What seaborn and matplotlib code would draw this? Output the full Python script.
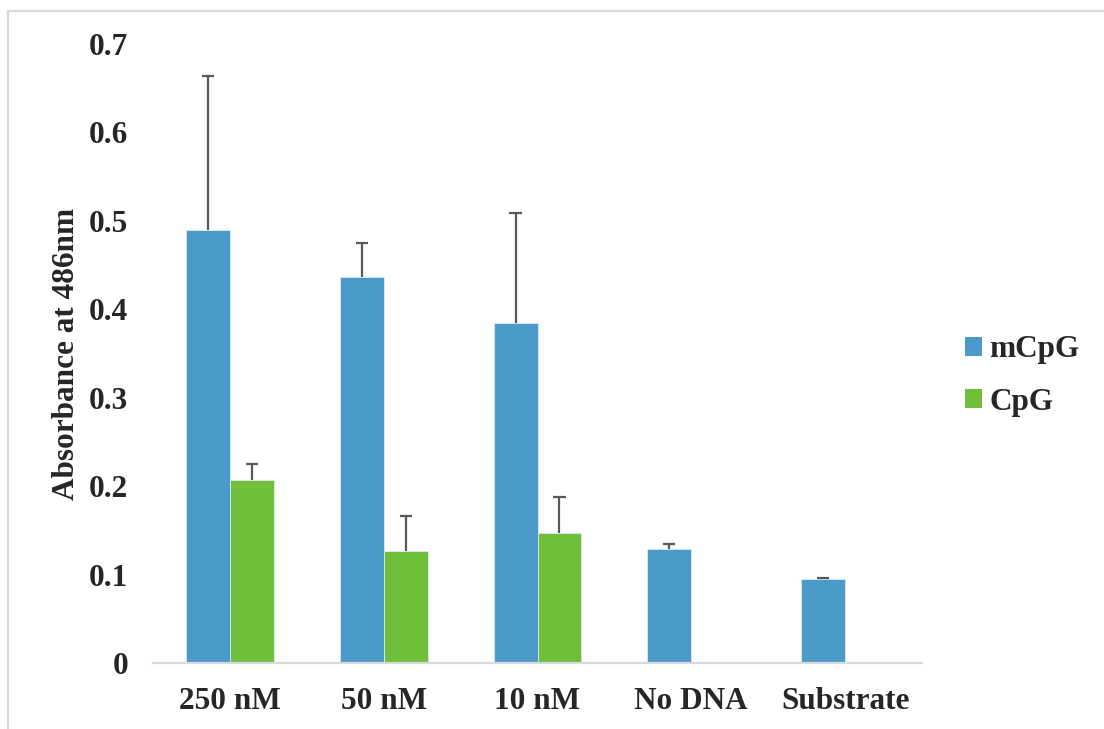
import numpy as np
import pandas as pd
import matplotlib
matplotlib.use("Agg")
import matplotlib.pyplot as plt
from matplotlib.lines import Line2D
import seaborn as sns

# Sample groups and probe types
categories = ["250 nM", "50 nM", "10 nM", "No DNA", "Substrate"]
series = ["mCpG", "CpG"]

# Mean absorbance at 486 nm and error (upper) per probe type
mcpg_mean = [0.490, 0.437, 0.385, 0.129, 0.095]
mcpg_err = [0.174, 0.038, 0.124, 0.006, 0.001]
cpg_mean = [0.207, 0.127, 0.147, np.nan, np.nan]
cpg_err = [0.018, 0.039, 0.041, np.nan, np.nan]

colors = {"mCpG": "#4a9bca", "CpG": "#70bf3a"}

rows = []
for i, c in enumerate(categories):
    rows.append({"group": c, "probe": "mCpG", "value": mcpg_mean[i], "err": mcpg_err[i]})
    rows.append({"group": c, "probe": "CpG", "value": cpg_mean[i], "err": cpg_err[i]})
df = pd.DataFrame(rows).dropna()

sns.set_style("white")
plt.rcParams["font.family"] = ["Liberation Serif", "DejaVu Serif"]
plt.rcParams["font.weight"] = "bold"
FS = 22.5

fig = plt.figure(figsize=(11.04, 7.29), dpi=100)
W, H = 1104, 729
ax = fig.add_axes([153 / W, 1 - 663 / H, (922 - 153) / W, (663 - 44) / H])

sns.barplot(data=df, x="group", y="value", hue="probe", order=categories,
            hue_order=series, palette=colors, width=0.572, errorbar=None,
            saturation=1, edgecolor="#dbe9f2", linewidth=0.6, ax=ax, legend=False)

# Upper error bars (stem + cap) placed on each drawn bar
lookup = {(r.group, r.probe): r.err for r in df.itertuples()}
cap_half = 0.04
for p in ax.patches:
    h = p.get_height()
    if not np.isfinite(h) or h == 0:
        continue
    xc = p.get_x() + p.get_width() / 2
    idx = int(round(xc))
    probe = "mCpG" if xc < idx else "CpG"
    err = lookup.get((categories[idx], probe))
    if err is None:
        continue
    ax.vlines(xc, h, h + err, colors="#595959", linewidth=1.6, zorder=3)
    ax.hlines(h + err, xc - cap_half, xc + cap_half, colors="#595959",
              linewidth=1.6, zorder=3)

ax.set_xlim(-0.5, len(categories) - 0.5)
ax.set_ylim(0, 0.7)
ax.set_yticks(np.arange(0, 0.71, 0.1))
ax.set_yticklabels(["0"] + [f"{v:.1f}" for v in np.arange(0.1, 0.71, 0.1)])
ax.tick_params(axis="y", length=0, pad=18, labelsize=FS)
ax.tick_params(axis="x", length=0, pad=17, labelsize=FS)
for lab in ax.get_xticklabels() + ax.get_yticklabels():
    lab.set_fontweight("bold")

for s in ["top", "right", "left"]:
    ax.spines[s].set_visible(False)
ax.spines["bottom"].set_color("#d9d9d9")
ax.spines["bottom"].set_linewidth(1.6)

ax.set_xlabel("")
ax.set_ylabel("Absorbance at 486nm", fontsize=FS, fontweight="bold")
ax.yaxis.set_label_coords(-0.093, 0.5)

handles = [plt.Rectangle((0, 0), 1, 1, facecolor=colors[s], edgecolor="none") for s in series]
fig.legend(handles, series, loc="center left", bbox_to_anchor=(965 / W, 1 - 376 / H),
           frameon=False, prop={"size": FS, "weight": "bold"}, handlelength=0.55,
           handleheight=0.55, handletextpad=0.22, labelspacing=0.74,
           borderpad=0, borderaxespad=0)

# Chart area outline (left and top edges)
fig.add_artist(Line2D([7.5 / W, 7.5 / W], [0, 1 - 11 / H], transform=fig.transFigure,
                      color="#d9d9d9", lw=1.6))
fig.add_artist(Line2D([7.5 / W, 1], [1 - 11 / H, 1 - 11 / H], transform=fig.transFigure,
                      color="#d9d9d9", lw=1.6))

fig.savefig("out.png", dpi=100, facecolor="white")
